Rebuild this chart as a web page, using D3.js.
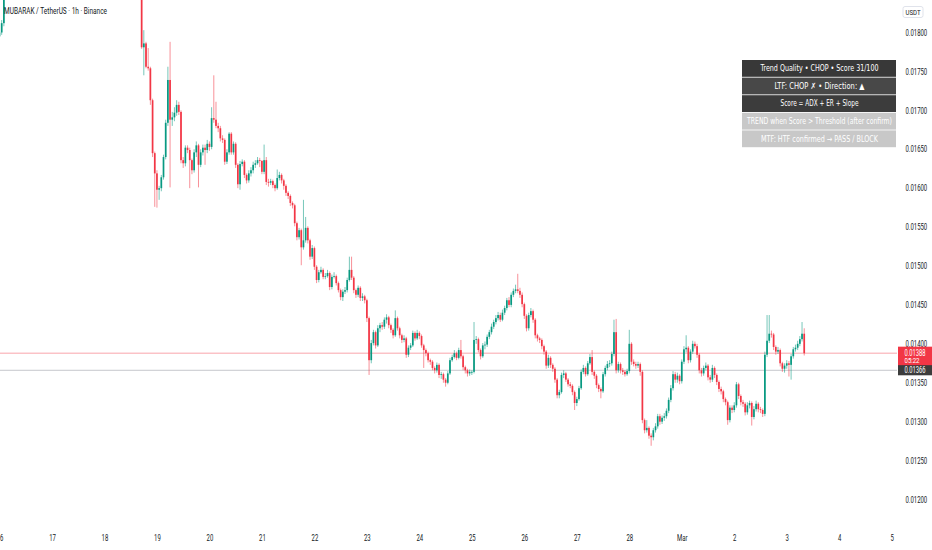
<!DOCTYPE html>
<html>
<head>
<meta charset="utf-8">
<script src="https://cdn.jsdelivr.net/npm/d3@7"></script>
<style>
  html, body { margin: 0; padding: 0; background: #fff; }
  svg { display: block; font-family: Roboto, "Noto Sans", sans-serif; }
</style>
</head>
<body>
<script>
//Declare consts/global variables
    const width = 932;
    const height = 550;
    const plotRight = 897;
    const plotBottom = 528;
    const squeeze = 0.72;   // text in the shot is horizontally condensed
    const green = "#089981";
    const red = "#f23645";

//Data - prices in units of 0.00001, one value per hourly bar
    const title = "MUBARAK / TetherUS · 1h · Binance";
    const startDate = new Date(2025, 1, 16);
    const firstOpen = 1795;

    const closes = [
        // Feb 16
        1800,1812,1850,1872,1890,1884,1903,1921,1912,1935,1948,1940,1962,1955,1978,1990,1971,1983,2004,1995,1976,1988,1969,1957,
        // Feb 17
        1968,1982,1999,2015,2008,1990,1977,1994,2010,2026,2019,2003,1985,1970,1958,1972,1960,1944,1931,1946,1938,1922,1909,1917,
        // Feb 18
        1930,1915,1902,1918,1906,1894,1880,1891,1878,1866,1874,1862,1870,1858,1866,1852,1848,1781,1786,1756,1754,1713,1645,1619,
        // Feb 19
        1598,1600,1614,1640,1684,1739,1688,1691,1697,1707,1698,1636,1632,1652,1649,1636,1623,1646,1655,1630,1646,1652,1649,1657,
        // Feb 20
        1653,1690,1688,1680,1677,1664,1662,1634,1646,1670,1646,1657,1630,1605,1631,1634,1617,1610,1619,1623,1630,1632,1636,1635,
        // Feb 21
        1621,1636,1608,1607,1609,1604,1600,1613,1617,1610,1603,1594,1590,1581,1578,1555,1537,1546,1524,1533,1549,1533,1512,1523,
        // Feb 22
        1499,1482,1492,1495,1486,1487,1491,1473,1486,1487,1478,1469,1460,1467,1469,1482,1495,1485,1469,1463,1472,1459,1461,1456,
        // Feb 23
        1433,1379,1401,1415,1398,1420,1424,1422,1431,1434,1424,1418,1411,1433,1420,1411,1405,1407,1386,1395,1398,1414,1407,1414,
        // Feb 24
        1410,1398,1392,1388,1379,1377,1369,1366,1373,1360,1361,1354,1350,1362,1379,1383,1388,1382,1392,1384,1370,1366,1362,1364,
        // Feb 25
        1364,1405,1406,1392,1384,1398,1399,1409,1415,1422,1428,1433,1437,1431,1440,1446,1456,1450,1463,1468,1470,1468,1463,1451,
        // Feb 26
        1436,1420,1437,1442,1431,1411,1407,1405,1397,1390,1372,1382,1373,1368,1354,1334,1338,1360,1362,1354,1348,1346,1338,1324,
        // Feb 27
        1329,1343,1364,1369,1361,1375,1383,1364,1359,1347,1342,1339,1361,1369,1374,1375,1387,1415,1366,1374,1366,1364,1361,1365,
        // Feb 28
        1400,1377,1374,1372,1374,1364,1302,1289,1292,1282,1280,1289,1294,1307,1300,1305,1307,1314,1328,1343,1361,1354,1359,1352,
        // Mar 1
        1377,1393,1395,1379,1390,1400,1397,1386,1366,1362,1369,1372,1357,1354,1369,1360,1351,1342,1339,1329,1325,1302,1318,1315,
        // Mar 2
        1321,1348,1333,1325,1323,1312,1321,1324,1306,1316,1323,1316,1315,1310,1386,1404,1413,1412,1396,1390,1392,1375,1368,1372,
        // Mar 3
        1375,1373,1384,1393,1395,1400,1406,1413,1388
    ];

    const highs = [
        1805,1816,1858,1878,1897,1895,1909,1928,1925,1941,1954,1951,1968,1966,1984,1996,1992,1989,2010,2008,1999,1994,1990,1972,
        1974,1988,2005,2021,2020,2013,1995,1999,2016,2032,2030,2024,2008,1990,1975,1978,1977,1965,1949,1952,1951,1943,1927,1922,
        1936,1935,1920,1923,1923,1911,1899,1896,1896,1883,1879,1879,1875,1875,1871,1870,1856,1852,1803,1788,1780,1756,1715,1647,
        1623,1603,1617,1643,1688,1756,1788,1698,1704,1713,1711,1700,1640,1655,1655,1652,1638,1650,1660,1657,1650,1656,1656,1662,
        1660,1704,1745,1711,1684,1680,1668,1664,1650,1672,1672,1660,1659,1632,1635,1637,1636,1619,1623,1627,1634,1636,1640,1639,
        1636,1656,1640,1612,1612,1611,1606,1624,1621,1619,1612,1605,1596,1592,1583,1580,1557,1549,1548,1585,1563,1551,1535,1527,
        1525,1501,1495,1499,1497,1491,1495,1493,1489,1492,1489,1480,1471,1470,1473,1485,1512,1512,1487,1471,1475,1474,1465,1463,
        1458,1435,1405,1418,1417,1424,1427,1428,1434,1438,1436,1426,1420,1443,1435,1422,1413,1411,1409,1398,1401,1417,1416,1418,
        1416,1412,1400,1394,1390,1381,1379,1371,1376,1375,1364,1363,1356,1365,1382,1386,1392,1390,1395,1405,1386,1372,1368,1367,
        1366,1428,1410,1408,1394,1401,1403,1412,1418,1426,1431,1437,1441,1440,1444,1449,1459,1460,1466,1471,1476,1490,1472,1466,
        1453,1438,1440,1446,1444,1433,1413,1409,1407,1399,1392,1386,1384,1375,1370,1356,1341,1363,1366,1364,1356,1351,1348,1340,
        1332,1346,1367,1373,1371,1378,1387,1392,1366,1361,1349,1344,1364,1372,1378,1379,1390,1431,1432,1377,1376,1369,1366,1368,
        1418,1402,1380,1377,1377,1376,1366,1304,1302,1294,1285,1292,1298,1310,1310,1308,1311,1317,1331,1347,1365,1364,1363,1361,
        1380,1397,1411,1397,1393,1404,1403,1400,1388,1369,1372,1376,1374,1360,1373,1371,1362,1353,1345,1341,1331,1327,1321,1321,
        1325,1351,1350,1335,1328,1325,1325,1327,1326,1320,1327,1325,1319,1317,1390,1437,1437,1417,1414,1398,1396,1394,1377,1375,
        1379,1378,1387,1396,1399,1404,1410,1428,1420
    ];

    const lows = [
        1792,1797,1808,1847,1866,1878,1880,1898,1906,1908,1930,1934,1936,1949,1950,1972,1965,1967,1978,1990,1970,1971,1963,1951,
        1952,1963,1977,1994,2003,1985,1972,1972,1989,2005,2014,1998,1980,1965,1953,1953,1955,1939,1926,1926,1933,1917,1904,1904,
        1912,1910,1897,1898,1901,1889,1875,1876,1873,1861,1862,1857,1858,1853,1854,1848,1846,1779,1745,1754,1751,1707,1640,1576,
        1575,1585,1596,1611,1637,1680,1601,1680,1686,1693,1694,1632,1626,1628,1645,1600,1618,1620,1640,1601,1627,1642,1630,1645,
        1648,1650,1684,1677,1672,1660,1658,1630,1631,1643,1643,1643,1626,1600,1598,1628,1613,1606,1607,1615,1619,1626,1630,1627,
        1618,1618,1604,1602,1604,1600,1596,1598,1610,1606,1598,1590,1586,1577,1574,1551,1533,1534,1501,1521,1530,1529,1508,1509,
        1495,1478,1479,1490,1483,1483,1485,1469,1470,1484,1475,1466,1456,1455,1464,1466,1480,1482,1465,1459,1460,1455,1455,1452,
        1428,1360,1375,1398,1394,1396,1415,1418,1419,1426,1420,1414,1407,1409,1417,1407,1401,1402,1382,1383,1392,1396,1404,1405,
        1406,1395,1369,1384,1376,1373,1366,1362,1363,1356,1355,1350,1345,1348,1360,1377,1381,1379,1380,1381,1366,1362,1358,1359,
        1360,1362,1400,1389,1380,1382,1393,1396,1406,1412,1419,1425,1430,1428,1429,1437,1443,1447,1447,1460,1465,1465,1459,1447,
        1432,1416,1417,1434,1427,1407,1403,1401,1393,1386,1368,1369,1369,1364,1350,1330,1330,1336,1356,1351,1345,1343,1334,1315,
        1320,1327,1341,1361,1358,1359,1373,1360,1355,1343,1338,1330,1337,1358,1366,1370,1372,1384,1362,1363,1362,1360,1358,1359,
        1362,1373,1371,1368,1369,1359,1298,1285,1286,1278,1269,1276,1286,1291,1296,1297,1301,1304,1311,1325,1340,1350,1350,1348,
        1349,1374,1389,1375,1376,1387,1394,1382,1362,1358,1359,1366,1353,1350,1351,1356,1347,1338,1335,1325,1321,1296,1299,1311,
        1312,1318,1329,1321,1319,1308,1309,1317,1295,1303,1313,1312,1311,1306,1307,1383,1401,1408,1392,1386,1387,1371,1364,1363,
        1368,1358,1354,1381,1390,1392,1397,1403,1385
    ];

    const priceTicks = [0.012, 0.0125, 0.013, 0.0135, 0.014, 0.0145, 0.015, 0.0155, 0.016, 0.0165, 0.017, 0.0175, 0.018];
    const dayLabels = ["16","17","18","19","20","21","22","23","24","25","26","27","28","Mar","2","3","4","5"];

    const lastPrice = 0.01388;
    const countdown = "05:22";
    const refPrice = 0.01366;

    const tableRows = [
        "Trend Quality • CHOP • Score 31/100",
        "LTF: CHOP ✗ • Direction: ▲",
        "Score = ADX + ER + Slope",
        "TREND when Score > Threshold (after confirm)",
        "MTF: HTF confirmed → PASS / BLOCK"
    ];
    // table styling (kept apart from the data)
    const rowFill = ["#383838", "#484848", "#3c3c3c", "#c8c8c8", "#c8c8c8"];
    const rowTextWidth = [118, 90, 78, 145, 117];

//Build bars
    const bars = closes.map((c, i) => ({
        date: d3.timeHour.offset(startDate, i),
        open: (i === 0 ? firstOpen : closes[i - 1]) / 1e5,
        high: highs[i] / 1e5,
        low: lows[i] / 1e5,
        close: c / 1e5
    }));

//Scales
    const xScale = d3.scaleTime()
        .domain([startDate, d3.timeDay.offset(startDate, 17)])
        .range([-0.5, 891.7]);

    const yScale = d3.scaleLinear()
        .domain([0.012, 0.018])
        .range([499.5, 32.5]);

//SVG
    const svg = d3.select("body")
        .append("svg")
        .attr("width", width)
        .attr("height", height);

    svg.append("rect")
        .attr("width", width).attr("height", height)
        .attr("fill", "#ffffff");

    svg.append("clipPath").attr("id", "plot-clip")
        .append("rect")
        .attr("x", 0).attr("y", 0)
        .attr("width", plotRight).attr("height", plotBottom);

    const plot = svg.append("g").attr("clip-path", "url(#plot-clip)");

//Price lines
    plot.append("line")
        .attr("x1", 0).attr("x2", plotRight)
        .attr("y1", yScale(refPrice)).attr("y2", yScale(refPrice))
        .attr("stroke", "#9598a1").attr("stroke-opacity", 0.55);

    plot.append("line")
        .attr("x1", 0).attr("x2", plotRight)
        .attr("y1", yScale(lastPrice)).attr("y2", yScale(lastPrice))
        .attr("stroke", red).attr("stroke-opacity", 0.45);

//Candles
    const candle = plot.selectAll("g.candle")
        .data(bars)
        .enter()
        .append("g")
        .attr("class", "candle");

    candle.append("line")
        .attr("x1", d => xScale(d.date))
        .attr("x2", d => xScale(d.date))
        .attr("y1", d => yScale(d.high))
        .attr("y2", d => yScale(d.low))
        .attr("stroke", d => d.close >= d.open ? green : red)
        .attr("stroke-width", 1)
        .attr("stroke-opacity", 0.55);

    candle.append("rect")
        .attr("x", d => xScale(d.date) - 0.85)
        .attr("y", d => yScale(Math.max(d.open, d.close)))
        .attr("width", 1.7)
        .attr("height", d => Math.max(0.8, Math.abs(yScale(d.open) - yScale(d.close))))
        .attr("fill", d => d.close >= d.open ? green : red);

//Axes
    const rightAxis = d3.axisRight(yScale)
        .tickValues(priceTicks)
        .tickFormat(d3.format(".5f"))
        .tickSize(0)
        .tickPadding(8.5);

    const yAxisG = svg.append("g")
        .attr("transform", "translate(" + plotRight + ",0)")
        .call(rightAxis);

    const bottomAxis = d3.axisBottom(xScale)
        .tickValues(d3.timeDay.range(startDate, d3.timeDay.offset(startDate, 18)))
        .tickFormat((d, i) => dayLabels[i])
        .tickSize(0)
        .tickPadding(7);

    const xAxisG = svg.append("g")
        .attr("transform", "translate(0," + plotBottom + ")")
        .call(bottomAxis);

    [yAxisG, xAxisG].forEach(g => {
        g.select(".domain").remove();
        g.selectAll("text")
            .attr("fill", "#131722")
            .attr("font-size", 8.3)
            .attr("font-family", "Roboto, sans-serif");
    });
    yAxisG.selectAll("text")
        .attr("x", 8.5 / squeeze)
        .attr("transform", "scale(" + squeeze + ",1)");
    xAxisG.selectAll("text")
        .attr("transform", "scale(" + squeeze + ",1)");

//Currency tag
    svg.append("rect")
        .attr("x", 903).attr("y", 6.5)
        .attr("width", 20).attr("height", 11)
        .attr("rx", 2)
        .attr("fill", "#fff")
        .attr("stroke", "#e0e3eb");
    svg.append("text")
        .attr("x", 913).attr("y", 14.5)
        .attr("text-anchor", "middle")
        .attr("font-size", 8)
        .attr("fill", "#131722")
        .attr("textLength", 15)
        .attr("lengthAdjust", "spacingAndGlyphs")
        .text("USDT");

//Price labels on the scale
    const refY = yScale(refPrice);
    svg.append("rect")
        .attr("x", 898).attr("y", refY - 6)
        .attr("width", 34).attr("height", 11)
        .attr("fill", "#3c3c3c");
    svg.append("text")
        .attr("x", 915).attr("y", refY + 3)
        .attr("text-anchor", "middle")
        .attr("font-size", 8.3)
        .attr("fill", "#ffffff")
        .attr("textLength", 21)
        .attr("lengthAdjust", "spacingAndGlyphs")
        .text(d3.format(".5f")(refPrice));

    const lastY = yScale(lastPrice);
    svg.append("rect")
        .attr("x", 898).attr("y", lastY - 6.5)
        .attr("width", 34).attr("height", 18.5)
        .attr("fill", red);
    svg.append("text")
        .attr("x", 915).attr("y", lastY + 2.8)
        .attr("text-anchor", "middle")
        .attr("font-size", 8.3)
        .attr("fill", "#ffffff")
        .attr("textLength", 21)
        .attr("lengthAdjust", "spacingAndGlyphs")
        .text(d3.format(".5f")(lastPrice));
    svg.append("text")
        .attr("x", 912).attr("y", lastY + 9.8)
        .attr("text-anchor", "middle")
        .attr("font-size", 8)
        .attr("fill", "#ffffff")
        .attr("textLength", 15)
        .attr("lengthAdjust", "spacingAndGlyphs")
        .text(countdown);

//Legend title
    svg.append("text")
        .attr("x", 4).attr("y", 14)
        .attr("font-size", 8.8)
        .attr("fill", "#131722")
        .attr("textLength", 103)
        .attr("lengthAdjust", "spacingAndGlyphs")
        .text(title);

//Info table
    const table = svg.append("g").attr("transform", "translate(742,60)");
    const rowStep = 17.6;

    const row = table.selectAll("g.row")
        .data(tableRows)
        .enter()
        .append("g")
        .attr("class", "row")
        .attr("transform", (d, i) => "translate(0," + (i * rowStep) + ")");

    row.append("rect")
        .attr("width", 154)
        .attr("height", 16.8)
        .attr("fill", (d, i) => rowFill[i]);

    row.append("text")
        .attr("x", 77.5)
        .attr("y", 11.3)
        .attr("text-anchor", "middle")
        .attr("font-size", 8.6)
        .attr("font-family", "'DejaVu Sans', sans-serif")
        .attr("fill", "#ffffff")
        .attr("textLength", (d, i) => rowTextWidth[i])
        .attr("lengthAdjust", "spacingAndGlyphs")
        .text(d => d);
</script>
</body>
</html>
